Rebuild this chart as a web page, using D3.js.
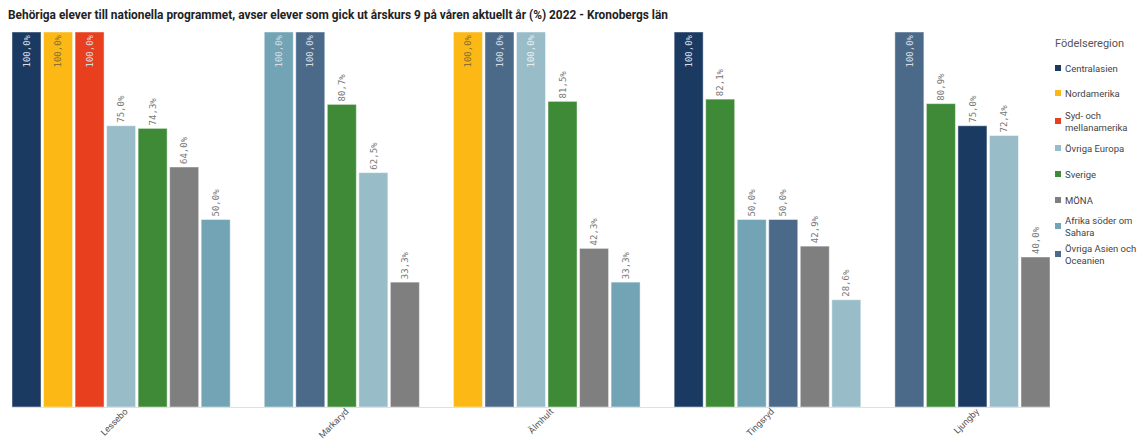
<!DOCTYPE html>
<html>
<head>
<meta charset="utf-8">
<script src="https://cdn.jsdelivr.net/npm/d3@7"></script>
<style>
  html, body { margin: 0; padding: 0; background: #fff; }
  svg { display: block; }
</style>
</head>
<body>
<svg id="chart" width="1140" height="439"></svg>
<script>
const titleText = "Behöriga elever till nationella programmet, avser elever som gick ut årskurs 9 på våren aktuellt år (%) 2022 - Kronobergs län";
const legendTitle = "Födelseregion";
const regions = ["Centralasien", "Nordamerika", "Syd- och mellanamerika", "Övriga Europa", "Sverige", "MÖNA", "Afrika söder om Sahara", "Övriga Asien och Oceanien"];
const regionColors = ["#1a3a62", "#fcb814", "#e8401f", "#98bdc9", "#3e8a37", "#7f7f7f", "#72a4b5", "#4b6a8a"];
const legendLines = [["Centralasien"], ["Nordamerika"], ["Syd- och", "mellanamerika"], ["Övriga Europa"], ["Sverige"], ["MÖNA"], ["Afrika söder om", "Sahara"], ["Övriga Asien och", "Oceanien"]];

const municipalities = ["Lessebo", "Markaryd", "Älmhult", "Tingsryd", "Ljungby"];
const lesseboRegions = ["Centralasien", "Nordamerika", "Syd- och mellanamerika", "Övriga Europa", "Sverige", "MÖNA", "Afrika söder om Sahara"];
const lesseboValues = [100.0, 100.0, 100.0, 75.0, 74.3, 64.0, 50.0];
const markarydRegions = ["Afrika söder om Sahara", "Övriga Asien och Oceanien", "Sverige", "Övriga Europa", "MÖNA"];
const markarydValues = [100.0, 100.0, 80.7, 62.5, 33.3];
const almhultRegions = ["Nordamerika", "Övriga Asien och Oceanien", "Övriga Europa", "Sverige", "MÖNA", "Afrika söder om Sahara"];
const almhultValues = [100.0, 100.0, 100.0, 81.5, 42.3, 33.3];
const tingsrydRegions = ["Centralasien", "Sverige", "Afrika söder om Sahara", "Övriga Asien och Oceanien", "MÖNA", "Övriga Europa"];
const tingsrydValues = [100.0, 82.1, 50.0, 50.0, 42.9, 28.6];
const ljungbyRegions = ["Övriga Asien och Oceanien", "Sverige", "Centralasien", "Övriga Europa", "MÖNA"];
const ljungbyValues = [100.0, 80.9, 75.0, 72.4, 40.0];

const groupRegions = [lesseboRegions, markarydRegions, almhultRegions, tingsrydRegions, ljungbyRegions];
const groupValues = [lesseboValues, markarydValues, almhultValues, tingsrydValues, ljungbyValues];

// Build bar records and slot keys (with an empty slot between groups)
const bars = [];
const slots = [];
municipalities.forEach((m, gi) => {
  if (gi > 0) slots.push("sep" + gi);
  groupRegions[gi].forEach((r, i) => {
    const key = m + "|" + r;
    slots.push(key);
    bars.push({ municipality: m, region: r, value: groupValues[gi][i], key });
  });
});

const svg = d3.select("#chart");
const color = d3.scaleOrdinal().domain(regions).range(regionColors);

const x = d3.scaleBand().domain(slots).range([12, 1050]).paddingInner(0.08).paddingOuter(0);
const y = d3.scaleLinear().domain([0, 100]).range([407, 32]);

// Title
svg.append("text")
  .attr("x", 8).attr("y", 19)
  .attr("font-family", "Roboto, 'Liberation Sans', sans-serif")
  .attr("font-weight", "bold")
  .attr("font-size", 12)
  .attr("fill", "#222")
  .attr("textLength", 660)
  .attr("lengthAdjust", "spacingAndGlyphs")
  .text(titleText);

// Bars
svg.append("g").selectAll("rect").data(bars).join("rect")
  .attr("x", d => x(d.key))
  .attr("y", d => y(d.value))
  .attr("width", x.bandwidth())
  .attr("height", d => y(0) - y(d.value))
  .attr("fill", d => color(d.region))
  .attr("stroke", "rgba(255,255,255,0.45)")
  .attr("stroke-width", 1);

// Axis line
svg.append("line")
  .attr("x1", 12).attr("x2", 1050)
  .attr("y1", y(0) + 0.5).attr("y2", y(0) + 0.5)
  .attr("stroke", "#e0e0e0").attr("stroke-width", 1);

// Value labels
const fmt = v => v.toFixed(1).replace(".", ",") + "%";
const labelG = svg.append("g").selectAll("g").data(bars).join("g")
  .attr("transform", d => {
    const cx = x(d.key) + x.bandwidth() / 2;
    const inside = d.value >= 95;
    const yy = inside ? y(d.value) + 3 : y(d.value) - 3;
    return `translate(${cx},${yy}) rotate(-90)`;
  });
labelG.append("text")
  .attr("x", 0).attr("y", 0).attr("dy", "0.35em")
  .attr("font-family", "'DejaVu Sans Mono', monospace")
  .attr("font-size", 9)
  .attr("text-anchor", d => d.value >= 95 ? "end" : "start")
  .attr("fill", d => {
    if (d.value < 95) return "#777";
    if (d.region === "Nordamerika") return "#8a7030";
    if (d.region === "Övriga Europa") return "#e8eef0";
    return "#d9dde2";
  })
  .text(d => fmt(d.value));

// Group labels
const groupCenters = municipalities.map((m, gi) => {
  const rs = groupRegions[gi];
  const first = x(m + "|" + rs[0]);
  const last = x(m + "|" + rs[rs.length - 1]) + x.bandwidth();
  return { name: m, cx: (first + last) / 2 };
});
const glab = svg.append("g").selectAll("g").data(groupCenters).join("g")
  .attr("transform", d => `translate(${d.cx + 5},${y(0) + 3}) rotate(-45)`);
glab.append("text")
  .attr("x", 0).attr("y", 0).attr("dy", "0.35em")
  .attr("text-anchor", "end")
  .attr("font-family", "Roboto, 'Liberation Sans', sans-serif")
  .attr("font-size", 9)
  .attr("fill", "#555")
  .text(d => d.name);

// Legend
const lg = svg.append("g");
lg.append("text")
  .attr("x", 1055).attr("y", 47)
  .attr("font-family", "Roboto, 'Liberation Sans', sans-serif")
  .attr("font-size", 11)
  .attr("fill", "#555")
  .text(legendTitle);
const legendY = [68, 93, 121, 148, 174, 200, 226, 254];
regions.forEach((r, i) => {
  const cy = legendY[i];
  lg.append("rect")
    .attr("x", 1055).attr("y", cy - 3)
    .attr("width", 6).attr("height", 6)
    .attr("fill", color(r));
  const lines = legendLines[i];
  const t = lg.append("text")
    .attr("font-family", "Roboto, 'Liberation Sans', sans-serif")
    .attr("font-size", 9.5)
    .attr("fill", "#444");
  lines.forEach((ln, j) => {
    t.append("tspan")
      .attr("x", 1065)
      .attr("y", cy + 3.5 + (j - (lines.length - 1) / 2) * 12)
      .text(ln);
  });
});
</script>
</body>
</html>
